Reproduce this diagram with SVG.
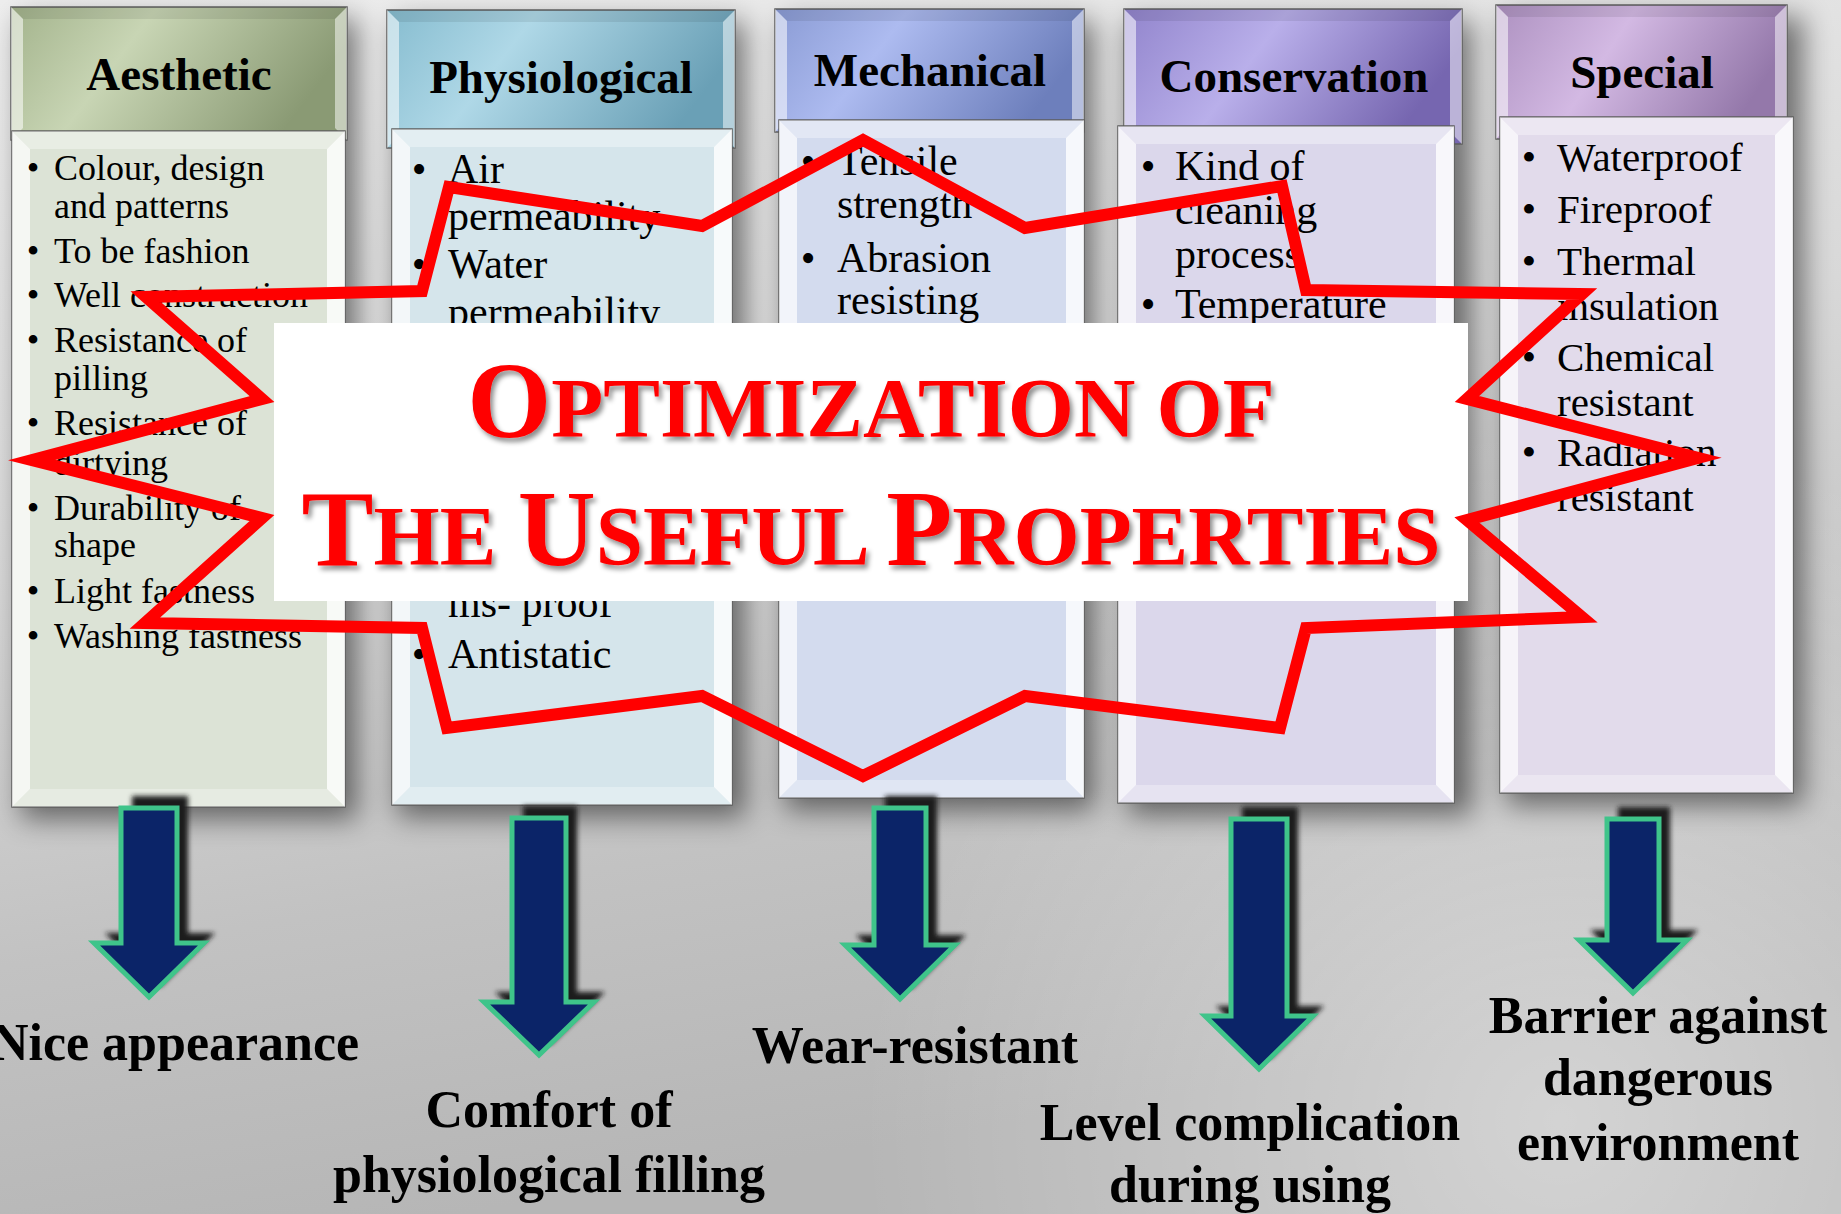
<svg xmlns="http://www.w3.org/2000/svg" width="1841" height="1214" viewBox="0 0 1841 1214">
<defs>
  <linearGradient id="bg" x1="0" y1="0" x2="0.25" y2="1">
    <stop offset="0" stop-color="#eeeeee"/>
    <stop offset="0.45" stop-color="#d8d8d8"/>
    <stop offset="0.75" stop-color="#c2c2c2"/>
    <stop offset="1" stop-color="#b6b6b6"/>
  </linearGradient>
  <radialGradient id="bgLight" cx="1560" cy="1120" r="700" gradientUnits="userSpaceOnUse">
    <stop offset="0" stop-color="#ffffff" stop-opacity="0.4"/>
    <stop offset="1" stop-color="#ffffff" stop-opacity="0"/>
  </radialGradient>
  <filter id="soft" x="-30%" y="-30%" width="160%" height="160%"><feGaussianBlur stdDeviation="14"/></filter>
  <filter id="shade" x="-20%" y="-20%" width="140%" height="140%"><feGaussianBlur stdDeviation="2.5"/></filter>
  <filter id="titleShadow" x="-5%" y="-20%" width="110%" height="140%">
    <feDropShadow dx="3" dy="4" stdDeviation="2.5" flood-color="#000" flood-opacity="0.45"/>
  </filter>
  <!-- header fills -->
  <linearGradient id="h1" x1="0" y1="0" x2="1" y2="0.3">
    <stop offset="0" stop-color="#a3b38c"/><stop offset="0.4" stop-color="#c8d5b4"/><stop offset="1" stop-color="#8a9a74"/>
  </linearGradient>
  <linearGradient id="h2" x1="0" y1="0" x2="1" y2="0.3">
    <stop offset="0" stop-color="#86bccf"/><stop offset="0.4" stop-color="#afd8e7"/><stop offset="1" stop-color="#6aa0b6"/>
  </linearGradient>
  <linearGradient id="h3" x1="0" y1="0" x2="1" y2="0.3">
    <stop offset="0" stop-color="#8a9bd4"/><stop offset="0.4" stop-color="#adbbf0"/><stop offset="1" stop-color="#6d7fbc"/>
  </linearGradient>
  <linearGradient id="h4" x1="0" y1="0" x2="1" y2="0.3">
    <stop offset="0" stop-color="#9184cc"/><stop offset="0.45" stop-color="#b9afea"/><stop offset="1" stop-color="#7666b0"/>
  </linearGradient>
  <linearGradient id="h5" x1="0" y1="0" x2="1" y2="0.3">
    <stop offset="0" stop-color="#ad91c0"/><stop offset="0.45" stop-color="#d3b9e3"/><stop offset="1" stop-color="#9478aa"/>
  </linearGradient>
  <style>
    .frame { stroke:#5e5e5e; stroke-width:1.5; }
    .hT { fill:#000; opacity:0.08; }
    .hL { fill:#fff; opacity:0.55; }
    .hR { fill:#fff; opacity:0.5; }
    .bT { fill:#fff; opacity:0.35; }
    .bL { fill:#fff; opacity:0.7; }
    .bR { fill:#fff; opacity:0.8; }
    .bB { fill:#fff; opacity:0.3; }
    .hdr { font-family:'Liberation Serif','Times New Roman',serif; font-weight:bold; font-size:47px; text-anchor:middle; fill:#000; }
    .it { font-family:'Liberation Serif','Times New Roman',serif; fill:#000; }
    .bul { text-anchor:middle; }
    .arrow { fill:#0b2468; stroke:#3fc48a; stroke-width:5; stroke-linejoin:miter; }
    .arrowShade { fill:#1c1c1c; }
    .lbl { font-family:'Liberation Serif','Times New Roman',serif; font-weight:bold; font-size:52px; text-anchor:middle; fill:#000; }
    .ttl { font-family:'Liberation Serif','Times New Roman',serif; font-weight:bold; fill:#ff0000; text-anchor:middle; }
    .star { fill:none; stroke:#ff0000; stroke-width:12; stroke-linejoin:miter; stroke-miterlimit:10; }
  </style>
</defs>

<!-- backdrop -->
<rect x="0" y="0" width="1841" height="1214" fill="url(#bg)"/>
<rect x="0" y="0" width="1841" height="1214" fill="url(#bgLight)"/>

<!-- soft column shadows -->
<g filter="url(#soft)" fill="#000" opacity="0.5">
  <rect x="21" y="19" width="336" height="800"/>
  <rect x="397" y="22" width="348" height="795"/>
  <rect x="785" y="21" width="309" height="789"/>
  <rect x="1128" y="21" width="344" height="794"/>
  <rect x="1506" y="17" width="297" height="788"/>
</g>

<!-- Aesthetic -->
<g id="col-aesthetic">
  <rect class="frame" x="11" y="7" width="336" height="133" fill="url(#h1)"/>
  <polygon class="hT" points="11,7 347,7 335,19 23,19"/>
  <polygon class="hL" points="11,7 23,19 23,128 11,140"/>
  <polygon class="hR" points="347,7 347,140 335,128 335,19"/>
  <text class="hdr" x="179" y="90">Aesthetic</text>
  <rect class="frame" x="12" y="131" width="333" height="676" fill="#dce3d6"/>
  <polygon class="bT" points="12,131 345,131 327,149 30,149"/>
  <polygon class="bL" points="12,131 30,149 30,789 12,807"/>
  <polygon class="bR" points="345,131 345,807 327,789 327,149"/>
  <polygon class="bB" points="12,807 30,789 327,789 345,807"/>
  <g class="it" font-size="36">
    <text class="bul" x="33" y="180">•</text>
    <text x="54" y="180">Colour, design</text>
    <text x="54" y="218">and patterns</text>
    <text class="bul" x="33" y="263">•</text>
    <text x="54" y="263">To be fashion</text>
    <text class="bul" x="33" y="307">•</text>
    <text x="54" y="307">Well construction</text>
    <text class="bul" x="33" y="352">•</text>
    <text x="54" y="352">Resistance of</text>
    <text x="54" y="390">pilling</text>
    <text class="bul" x="33" y="435">•</text>
    <text x="54" y="435">Resistance of</text>
    <text x="54" y="475">dirtying</text>
    <text class="bul" x="33" y="520">•</text>
    <text x="54" y="520">Durability of</text>
    <text x="54" y="557">shape</text>
    <text class="bul" x="33" y="603">•</text>
    <text x="54" y="603">Light fastness</text>
    <text class="bul" x="33" y="648">•</text>
    <text x="54" y="648">Washing fastness</text>
  </g>
</g>

<!-- Physiological -->
<g id="col-physiological">
  <rect class="frame" x="387" y="10" width="348" height="138" fill="url(#h2)"/>
  <polygon class="hT" points="387,10 735,10 723,22 399,22"/>
  <polygon class="hL" points="387,10 399,22 399,136 387,148"/>
  <polygon class="hR" points="735,10 735,148 723,136 723,22"/>
  <text class="hdr" x="561" y="93">Physiological</text>
  <rect class="frame" x="392" y="129" width="340" height="676" fill="#d5e5eb"/>
  <polygon class="bT" points="392,129 732,129 714,147 410,147"/>
  <polygon class="bL" points="392,129 410,147 410,787 392,805"/>
  <polygon class="bR" points="732,129 732,805 714,787 714,147"/>
  <polygon class="bB" points="392,805 410,787 714,787 732,805"/>
  <g class="it" font-size="42">
    <text class="bul" x="419" y="183">•</text>
    <text x="448" y="183">Air</text>
    <text x="448" y="230">permeability</text>
    <text class="bul" x="419" y="278">•</text>
    <text x="448" y="278">Water</text>
    <text x="448" y="326">permeability</text>
    <text x="448" y="617">ms- proof</text>
    <text class="bul" x="419" y="668">•</text>
    <text x="448" y="668">Antistatic</text>
  </g>
</g>

<!-- Mechanical -->
<g id="col-mechanical">
  <rect class="frame" x="775" y="9" width="309" height="123" fill="url(#h3)"/>
  <polygon class="hT" points="775,9 1084,9 1072,21 787,21"/>
  <polygon class="hL" points="775,9 787,21 787,120 775,132"/>
  <polygon class="hR" points="1084,9 1084,132 1072,120 1072,21"/>
  <text class="hdr" x="930" y="86">Mechanical</text>
  <rect class="frame" x="779" y="120" width="305" height="678" fill="#d3dbee"/>
  <polygon class="bT" points="779,120 1084,120 1066,138 797,138"/>
  <polygon class="bL" points="779,120 797,138 797,780 779,798"/>
  <polygon class="bR" points="1084,120 1084,798 1066,780 1066,138"/>
  <polygon class="bB" points="779,798 797,780 1066,780 1084,798"/>
  <g class="it" font-size="42">
    <text class="bul" x="808" y="175">•</text>
    <text x="837" y="175">Tensile</text>
    <text x="837" y="218">strength</text>
    <text class="bul" x="808" y="272">•</text>
    <text x="837" y="272">Abrasion</text>
    <text x="837" y="314">resisting</text>
  </g>
</g>

<!-- Conservation -->
<g id="col-conservation">
  <rect class="frame" x="1124" y="9" width="338" height="135" fill="url(#h4)"/>
  <polygon class="hT" points="1124,9 1462,9 1450,21 1136,21"/>
  <polygon class="hL" points="1124,9 1136,21 1136,132 1124,144"/>
  <polygon class="hR" points="1462,9 1462,144 1450,132 1450,21"/>
  <text class="hdr" x="1294" y="92">Conservation</text>
  <rect class="frame" x="1118" y="126" width="336" height="677" fill="#dbd7eb"/>
  <polygon class="bT" points="1118,126 1454,126 1436,144 1136,144"/>
  <polygon class="bL" points="1118,126 1136,144 1136,785 1118,803"/>
  <polygon class="bR" points="1454,126 1454,803 1436,785 1436,144"/>
  <polygon class="bB" points="1118,803 1136,785 1436,785 1454,803"/>
  <g class="it" font-size="42">
    <text class="bul" x="1148" y="180">•</text>
    <text x="1175" y="180">Kind of</text>
    <text x="1175" y="224">cleaning</text>
    <text x="1175" y="268">process</text>
    <text class="bul" x="1148" y="318">•</text>
    <text x="1175" y="318">Temperature</text>
  </g>
</g>

<!-- Special -->
<g id="col-special">
  <rect class="frame" x="1496" y="5" width="291" height="134" fill="url(#h5)"/>
  <polygon class="hT" points="1496,5 1787,5 1775,17 1508,17"/>
  <polygon class="hL" points="1496,5 1508,17 1508,127 1496,139"/>
  <polygon class="hR" points="1787,5 1787,139 1775,127 1775,17"/>
  <text class="hdr" x="1642" y="88">Special</text>
  <rect class="frame" x="1500" y="117" width="293" height="676" fill="#e2dbeb"/>
  <polygon class="bT" points="1500,117 1793,117 1775,135 1518,135"/>
  <polygon class="bL" points="1500,117 1518,135 1518,775 1500,793"/>
  <polygon class="bR" points="1793,117 1793,793 1775,775 1775,135"/>
  <polygon class="bB" points="1500,793 1518,775 1775,775 1793,793"/>
  <g class="it" font-size="41">
    <text class="bul" x="1529" y="171">•</text>
    <text x="1557" y="171">Waterproof</text>
    <text class="bul" x="1529" y="223">•</text>
    <text x="1557" y="223">Fireproof</text>
    <text class="bul" x="1529" y="275">•</text>
    <text x="1557" y="275">Thermal</text>
    <text x="1557" y="320">insulation</text>
    <text class="bul" x="1529" y="371">•</text>
    <text x="1557" y="371">Chemical</text>
    <text x="1557" y="416">resistant</text>
    <text class="bul" x="1529" y="466">•</text>
    <text x="1557" y="466">Radiation</text>
    <text x="1557" y="511">resistant</text>
  </g>
</g>

<!-- connectors: downward arrows -->
<g id="connectors">
  <g filter="url(#shade)" class="arrowShade">
    <path d="M132,796 L188,796 L188,933 L215,933 L160,987 L105,933 L132,933 Z"/>
    <path d="M523,806 L577,806 L577,992 L605,992 L550,1045 L495,992 L523,992 Z"/>
    <path d="M885,796 L937,796 L937,935 L966,935 L911,989 L856,935 L885,935 Z"/>
    <path d="M1242,807 L1298,807 L1298,1006 L1324,1006 L1270,1059 L1216,1006 L1242,1006 Z"/>
    <path d="M1618,807 L1670,807 L1670,930 L1698,930 L1644,983 L1590,930 L1618,930 Z"/>
  </g>
  <path class="arrow" d="M121,808 L177,808 L177,943 L204,943 L149,997 L94,943 L121,943 Z"/>
  <path class="arrow" d="M512,818 L566,818 L566,1002 L594,1002 L539,1055 L484,1002 L512,1002 Z"/>
  <path class="arrow" d="M874,808 L926,808 L926,945 L955,945 L900,999 L845,945 L874,945 Z"/>
  <path class="arrow" d="M1231,819 L1287,819 L1287,1016 L1313,1016 L1259,1069 L1205,1016 L1231,1016 Z"/>
  <path class="arrow" d="M1607,819 L1659,819 L1659,940 L1687,940 L1633,993 L1579,940 L1607,940 Z"/>
</g>

<!-- outcome labels -->
<g id="outcomes">
  <text class="lbl" x="175" y="1060">Nice appearance</text>
  <text class="lbl"><tspan x="549" y="1127">Comfort of</tspan><tspan x="549" y="1192">physiological filling</tspan></text>
  <text class="lbl" x="915" y="1063">Wear-resistant</text>
  <text class="lbl"><tspan x="1250" y="1140">Level complication</tspan><tspan x="1250" y="1202">during using</tspan></text>
  <text class="lbl"><tspan x="1658" y="1033">Barrier against</tspan><tspan x="1658" y="1095">dangerous</tspan><tspan x="1658" y="1160">environment</tspan></text>
</g>

<!-- title panel -->
<g id="title">
  <rect x="274" y="323" width="1194" height="278" fill="#ffffff"/>
  <g filter="url(#titleShadow)">
    <text class="ttl" x="871" y="437"><tspan font-size="108">O</tspan><tspan font-size="85">PTIMIZATION OF</tspan></text>
    <text class="ttl" x="871" y="565"><tspan font-size="108">T</tspan><tspan font-size="85">HE </tspan><tspan font-size="108">U</tspan><tspan font-size="85">SEFUL </tspan><tspan font-size="108">P</tspan><tspan font-size="85">ROPERTIES</tspan></text>
  </g>
</g>

<!-- burst outline -->
<polygon id="burst" class="star" points="863,140 1025,228 1282,186 1306,290 1582,294 1467,399 1698,458 1467,520 1582,617 1306,628 1280,728 1025,696 863,776 702,696 447,728 422,628 145,623 262,518 32,460 262,399 146,297 422,291 449,187 702,226"/>
</svg>
